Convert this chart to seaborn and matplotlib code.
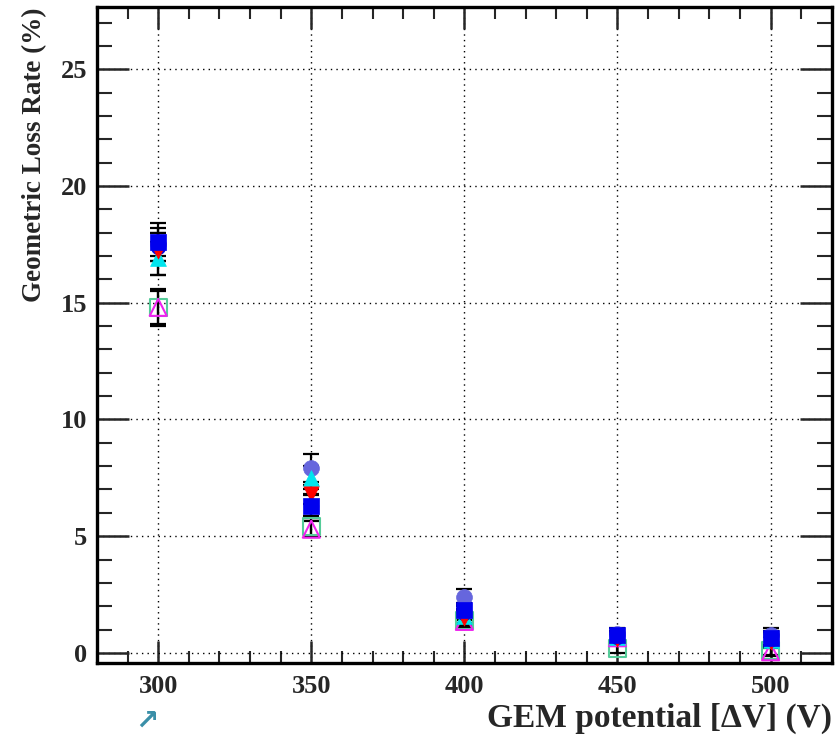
import numpy as np
import pandas as pd
import matplotlib
matplotlib.use("Agg")
import matplotlib.pyplot as plt
import seaborn as sns
from matplotlib.ticker import MultipleLocator

# ---- data ----
voltages = [300, 350, 400, 450, 500]
s_blue_square = [17.6, 6.3, 1.85, 0.75, 0.65]
s_red_tri_down = [17.2, 6.8, 1.5, 0.6, 0.45]
s_cyan_tri_up = [16.9, 7.5, 1.6, 0.7, 0.55]
s_slate_circle = [17.5, 7.9, 2.4, 0.8, 0.75]
s_blue_circle = [17.4, 6.3, 1.7, 0.7, 0.6]
s_magenta_open_tri = [14.8, 5.3, 1.35, 0.65, 0.05]
s_green_open_square = [14.8, 5.4, 1.4, 0.2, 0.1]

e_blue_square = [0.8, 0.5, 0.3, 0.2, 0.3]
e_red_tri_down = [1.0, 0.4, 0.3, 0.2, 0.25]
e_cyan_tri_up = [0.7, 0.5, 0.3, 0.2, 0.25]
e_slate_circle = [0.5, 0.6, 0.33, 0.27, 0.3]
e_blue_circle = [0.6, 0.45, 0.3, 0.2, 0.25]
e_magenta_open_tri = [0.8, 0.35, 0.3, 0.2, 0.2]
e_green_open_square = [0.7, 0.4, 0.3, 0.2, 0.2]

xlabel = "GEM potential [\u0394V] (V)"
ylabel = "Geometric Loss Rate (%)"

series = [
    (s_green_open_square, e_green_open_square, "s", "#55cc99", False, 150),
    (s_magenta_open_tri, e_magenta_open_tri, "^", "#ee22ee", False, 150),
    (s_slate_circle, e_slate_circle, "o", "#6666dd", True, 130),
    (s_cyan_tri_up, e_cyan_tri_up, "^", "#00e5ee", True, 130),
    (s_blue_circle, e_blue_circle, "o", "#0000dd", True, 110),
    (s_red_tri_down, e_red_tri_down, "v", "#ff0000", True, 120),
    (s_blue_square, e_blue_square, "s", "#0000ee", True, 140),
]

sns.set_style("white")
plt.rcParams["font.family"] = ["Liberation Serif", "DejaVu Serif"]
plt.rcParams["font.weight"] = "bold"

fig = plt.figure(figsize=(8.36, 7.35), dpi=100)
ax = fig.add_axes([0.116, 0.098, 0.879, 0.892])

for vals, errs, mk, col, filled, size in series:
    df = pd.DataFrame({"x": voltages, "y": vals})
    ax.errorbar(voltages, vals, yerr=errs, fmt="none", ecolor="black",
                elinewidth=1.6, capsize=6, capthick=1.6, zorder=3)
    if filled:
        sns.scatterplot(data=df, x="x", y="y", marker=mk, color=col, s=size,
                        edgecolor=col, linewidth=0.5, ax=ax, zorder=4, legend=False)
    else:
        sns.scatterplot(data=df, x="x", y="y", marker=mk, facecolors="none",
                        edgecolor=col, s=size, linewidth=1.5, ax=ax, zorder=4,
                        legend=False)

ax.set_xlim(280, 520)
ax.set_ylim(-0.43, 27.65)
ax.xaxis.set_major_locator(MultipleLocator(50))
ax.xaxis.set_minor_locator(MultipleLocator(10))
ax.yaxis.set_major_locator(MultipleLocator(5))
ax.yaxis.set_minor_locator(MultipleLocator(1))

ax.grid(True, which="major", linestyle=(0, (1, 3)), color="black", linewidth=1.0)
ax.set_axisbelow(True)

for sp in ax.spines.values():
    sp.set_linewidth(2.4)
    sp.set_color("black")

ax.tick_params(axis="x", which="major", direction="in", length=16, width=1.8,
               top=True, bottom=True, labelsize=19, pad=9)
ax.tick_params(axis="x", which="minor", direction="in", length=8.5, width=1.5,
               top=True, bottom=True)
ax.tick_params(axis="y", which="major", direction="in", length=23, width=1.8,
               left=True, right=True, labelsize=19, pad=7)
ax.tick_params(axis="y", which="minor", direction="in", length=11, width=1.5,
               left=True, right=True)
for lab in ax.get_xticklabels() + ax.get_yticklabels():
    lab.set_fontweight("bold")

ax.set_xlabel(xlabel, fontsize=24, fontweight="bold", loc="right", labelpad=3)
ax.set_ylabel(ylabel, fontsize=19.5, fontweight="bold", loc="top", labelpad=10)

fig.text(0.162, 0.008, "\u2197", color="#3a8fa8", fontsize=20,
         family=["DejaVu Sans"])

fig.savefig("out.png", dpi=100)
